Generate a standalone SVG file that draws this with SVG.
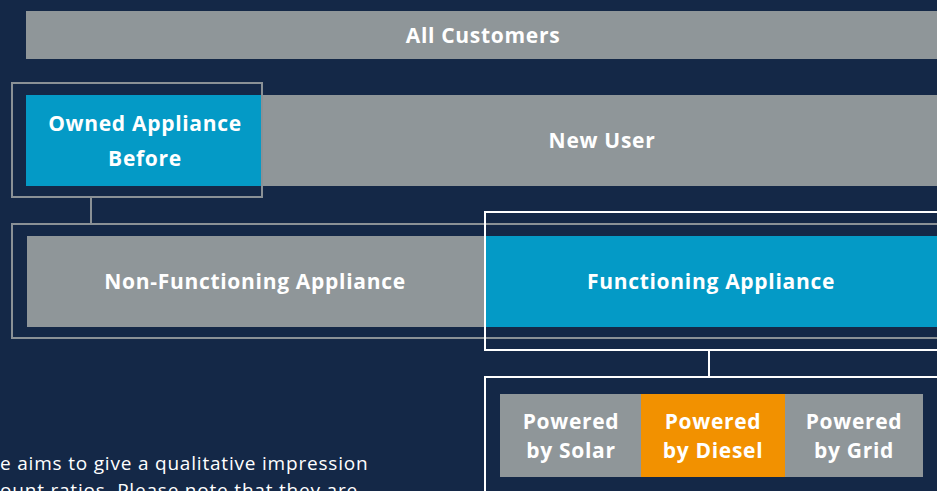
<svg xmlns="http://www.w3.org/2000/svg" width="937" height="491" viewBox="0 0 937 491">
<style>
.t{font-family:"Open Sans","Liberation Sans",sans-serif;font-weight:700;font-size:21px;letter-spacing:0.7px;fill:#fff;text-anchor:middle}
.g{fill:#8f9699}
.b{fill:#049ac6}
.o{fill:#f29100}
.og{fill:none;stroke:#8a9196;stroke-width:2}
.ow{fill:none;stroke:#fff;stroke-width:2}
.p{font-family:"Open Sans","Liberation Sans",sans-serif;font-size:19px;letter-spacing:0.8px;fill:#fff}
</style>
<rect width="937" height="491" fill="#142847"/>
<g id="connectors">
<line x1="91" y1="197" x2="91" y2="224" stroke="#8a9196" stroke-width="2"/>
<line x1="709" y1="350" x2="709" y2="377" stroke="#fff" stroke-width="2"/>
</g>
<g id="all-customers">
<rect class="g" x="26" y="11" width="911" height="48"/>
<text class="t" x="483" y="43">All Customers</text>
</g>
<g id="new-user">
<rect class="g" x="262" y="95" width="675" height="91"/>
<text class="t" x="602" y="148">New User</text>
</g>
<g id="owned-appliance">
<rect class="b" x="26" y="95" width="236" height="91"/>
<rect class="og" x="12" y="83" width="250" height="114"/>
<text class="t" x="145" y="131">Owned Appliance</text>
<text class="t" x="145" y="166">Before</text>
</g>
<g id="non-functioning">
<rect class="og" x="12" y="224" width="940" height="114"/>
<rect class="g" x="27" y="236" width="459" height="91"/>
<text class="t" x="255" y="289">Non-Functioning Appliance</text>
</g>
<g id="functioning">
<rect class="b" x="486" y="236" width="460" height="91"/>
<rect class="ow" x="485" y="212" width="470" height="138"/>
<text class="t" x="711" y="289">Functioning Appliance</text>
</g>
<g id="power-sources">
<rect class="ow" x="485" y="377" width="470" height="130"/>
<g id="solar">
<rect class="g" x="500" y="394" width="141" height="83"/>
<text class="t" x="571" y="429">Powered</text>
<text class="t" x="571" y="458">by Solar</text>
</g>
<g id="diesel">
<rect class="o" x="641" y="394" width="144" height="83"/>
<text class="t" x="713" y="429">Powered</text>
<text class="t" x="713" y="458">by Diesel</text>
</g>
<g id="grid">
<rect class="g" x="785" y="394" width="138" height="83"/>
<text class="t" x="854" y="429">Powered</text>
<text class="t" x="854" y="458">by Grid</text>
</g>
</g>
<text class="p" x="0" y="470">e aims to give a qualitative impression</text>
<text class="p" x="0" y="497">ount ratios. Please note that they are</text>
</svg>
